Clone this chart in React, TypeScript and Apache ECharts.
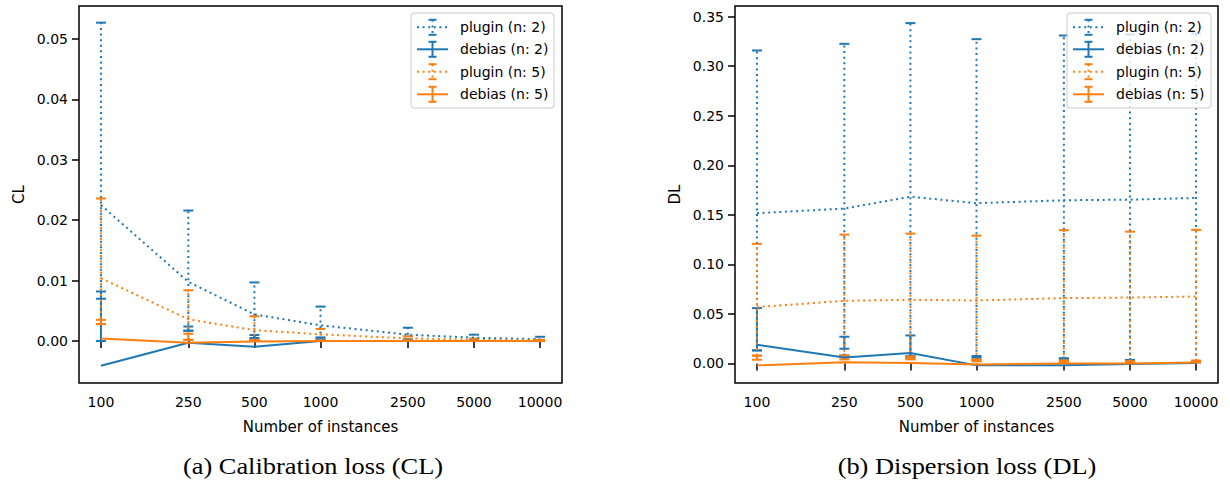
import React, { useEffect, useRef } from "react";
import * as echarts from "echarts";

// ---------- data ----------
const instances = [100, 250, 500, 1000, 2500, 5000, 10000];
const clTicks = [0, 0.01, 0.02, 0.03, 0.04, 0.05];
const dlTicks = [0, 0.05, 0.1, 0.15, 0.2, 0.25, 0.3, 0.35];

// Calibration loss (CL)
const clPluginN2 = [0.0225, 0.0098, 0.0044, 0.0026, 0.00105, 0.00055, 0.0003];
const clPluginN2Lo = [0.007, 0.0017, 0.0005, 0.0003, 0.0001, 0.0001, 0.0];
const clPluginN2Hi = [0.0527, 0.0216, 0.0097, 0.0057, 0.0022, 0.00105, 0.0007];
const clDebiasN2 = [-0.0041, -0.0003, -0.00095, 0.0, 0.0, 0.0, 0.0];
const clDebiasN2Lo = [0.0, 0.0017, 0.0002, 0.0001, 0.0001, 0.0, 0.0];
const clDebiasN2Hi = [0.0082, 0.0024, 0.001, 0.0006, 0.0003, 0.0002, 0.0001];
const clPluginN5 = [0.0104, 0.0036, 0.0018, 0.0011, 0.00045, 0.0002, 0.0001];
const clPluginN5Lo = [0.0028, 0.0002, 0.0, 0.0, 0.0, 0.0, 0.0];
const clPluginN5Hi = [0.0236, 0.0084, 0.0041, 0.002, 0.0008, 0.0004, 0.0002];
const clDebiasN5 = [0.0004, -0.0003, -0.0001, 0.0, 0.0, 0.0, 0.0];
const clDebiasN5Lo = [0.0028, 0.0002, 0.0, 0.0, 0.0, 0.0, 0.0];
const clDebiasN5Hi = [0.0035, 0.0012, 0.0002, 0.0001, 0.0001, 0.0, 0.0];

// Dispersion loss (DL)
const dlPluginN2 = [0.1516, 0.1563, 0.1683, 0.1617, 0.1647, 0.1653, 0.167];
const dlPluginN2Lo = [0.0131, 0.008, 0.0075, 0.006, 0.005, 0.0034, 0.002];
const dlPluginN2Hi = [0.3159, 0.3226, 0.3435, 0.3273, 0.331, 0.332, 0.333];
const dlDebiasN2 = [0.0189, 0.006, 0.0105, -0.002, -0.0018, -0.0005, 0.0005];
const dlDebiasN2Lo = [0.0131, 0.0148, 0.006, 0.004, 0.003, 0.002, 0.001];
const dlDebiasN2Hi = [0.0558, 0.0269, 0.0282, 0.0075, 0.005, 0.0034, 0.002];
const dlPluginN5 = [0.0568, 0.0632, 0.0642, 0.0635, 0.0659, 0.0665, 0.0675];
const dlPluginN5Lo = [0.0078, 0.006, 0.005, 0.003, 0.0027, 0.002, 0.0027];
const dlPluginN5Hi = [0.1207, 0.13, 0.131, 0.129, 0.1345, 0.133, 0.1348];
const dlDebiasN5 = [-0.002, 0.0012, 0.0005, -0.001, 0.0, 0.0, 0.0008];
const dlDebiasN5Lo = [0.0037, 0.004, 0.004, 0.002, 0.001, 0.001, 0.001];
const dlDebiasN5Hi = [0.0078, 0.008, 0.007, 0.004, 0.0027, 0.002, 0.0027];

const seriesNames = ["plugin (n: 2)", "debias (n: 2)", "plugin (n: 5)", "debias (n: 5)"];

// ---------- styles ----------
const BLUE = "#1f77b4";
const ORANGE = "#ff7f0e";
const DOT = [2, 3.6];
const LW = 2;
const FONT = "DejaVu Sans";

type S = { name: string; color: string; dotted: boolean; mean: number[]; lo: number[]; hi: number[] };

const clSeries: S[] = [
  { name: seriesNames[0], color: BLUE, dotted: true, mean: clPluginN2, lo: clPluginN2Lo, hi: clPluginN2Hi },
  { name: seriesNames[1], color: BLUE, dotted: false, mean: clDebiasN2, lo: clDebiasN2Lo, hi: clDebiasN2Hi },
  { name: seriesNames[2], color: ORANGE, dotted: true, mean: clPluginN5, lo: clPluginN5Lo, hi: clPluginN5Hi },
  { name: seriesNames[3], color: ORANGE, dotted: false, mean: clDebiasN5, lo: clDebiasN5Lo, hi: clDebiasN5Hi },
];
const dlSeries: S[] = [
  { name: seriesNames[0], color: BLUE, dotted: true, mean: dlPluginN2, lo: dlPluginN2Lo, hi: dlPluginN2Hi },
  { name: seriesNames[1], color: BLUE, dotted: false, mean: dlDebiasN2, lo: dlDebiasN2Lo, hi: dlDebiasN2Hi },
  { name: seriesNames[2], color: ORANGE, dotted: true, mean: dlPluginN5, lo: dlPluginN5Lo, hi: dlPluginN5Hi },
  { name: seriesNames[3], color: ORANGE, dotted: false, mean: dlDebiasN5, lo: dlDebiasN5Lo, hi: dlDebiasN5Hi },
];

function errorBarRenderer(color: string, dotted: boolean) {
  return (params: any, api: any) => {
    const x = api.value(0);
    const lo = api.value(1);
    const hi = api.value(2);
    const pLo = api.coord([x, lo]);
    const pHi = api.coord([x, hi]);
    const cw = 5;
    const barStyle: any = { stroke: color, lineWidth: LW, fill: null };
    if (dotted) barStyle.lineDash = DOT;
    const capStyle = { stroke: color, lineWidth: LW, fill: null };
    return {
      type: "group",
      children: [
        { type: "line", shape: { x1: pLo[0], y1: pLo[1], x2: pHi[0], y2: pHi[1] }, style: barStyle },
        { type: "line", shape: { x1: pLo[0] - cw, y1: pLo[1], x2: pLo[0] + cw, y2: pLo[1] }, style: capStyle },
        { type: "line", shape: { x1: pHi[0] - cw, y1: pHi[1], x2: pHi[0] + cw, y2: pHi[1] }, style: capStyle },
      ],
    };
  };
}

function buildSeries(list: S[], axisIndex: number) {
  const out: any[] = [];
  list.forEach((s) => {
    out.push({
      type: "line",
      name: s.name,
      xAxisIndex: axisIndex,
      yAxisIndex: axisIndex,
      data: instances.map((n, i) => [Math.log10(n), s.mean[i]]),
      symbol: "none",
      lineStyle: { color: s.color, width: LW, type: s.dotted ? DOT : "solid" },
      itemStyle: { color: s.color },
      z: 2,
    });
    out.push({
      type: "custom",
      name: s.name,
      xAxisIndex: axisIndex,
      yAxisIndex: axisIndex,
      data: instances.map((n, i) => [Math.log10(n), s.lo[i], s.hi[i]]),
      encode: { x: 0, y: [1, 2] },
      renderItem: errorBarRenderer(s.color, s.dotted),
      z: 2,
    });
  });
  return out;
}

function legendGraphics(boxX: number, boxW: number, list: S[]) {
  const els: any[] = [];
  const boxY = 13;
  const boxH = 95;
  els.push({
    type: "rect",
    shape: { x: boxX, y: boxY, width: boxW, height: boxH, r: 3 },
    style: { fill: "rgba(255,255,255,0.8)", stroke: "#cccccc", lineWidth: 1 },
    z: 100,
  });
  const rows = [27.3, 49.3, 71.7, 94.3];
  list.forEach((s, i) => {
    const y = rows[i];
    const x1 = boxX + 6;
    const x2 = boxX + 37;
    const cx = (x1 + x2) / 2;
    const base: any = { stroke: s.color, lineWidth: LW, fill: null };
    const dashed: any = s.dotted ? { ...base, lineDash: DOT } : base;
    els.push({ type: "line", shape: { x1, y1: y, x2, y2: y }, style: dashed, z: 101 });
    els.push({ type: "line", shape: { x1: cx, y1: y - 7.5, x2: cx, y2: y + 7.5 }, style: dashed, z: 101 });
    els.push({ type: "line", shape: { x1: cx - 4, y1: y - 7.5, x2: cx + 4, y2: y - 7.5 }, style: base, z: 101 });
    els.push({ type: "line", shape: { x1: cx - 4, y1: y + 7.5, x2: cx + 4, y2: y + 7.5 }, style: base, z: 101 });
    els.push({
      type: "text",
      x: boxX + 49,
      y,
      style: {
        text: s.name,
        fontFamily: FONT,
        fontSize: 14,
        fill: "#000",
        verticalAlign: "middle",
        align: "left",
      },
      z: 101,
    });
  });
  return els;
}

function xAxis(gridIndex: number) {
  const vals = instances.map((n) => Math.log10(n));
  return {
    type: "value",
    gridIndex,
    min: 1.9,
    max: 4.1,
    name: "Number of instances",
    nameLocation: "middle",
    nameGap: 36,
    nameTextStyle: { fontFamily: FONT, fontSize: 15, color: "#000" },
    axisLine: { show: false },
    splitLine: { show: false },
    axisTick: { show: true, inside: false, length: 7, customValues: vals, lineStyle: { color: "#000", width: 1.5 } },
    axisLabel: {
      show: true,
      customValues: vals,
      margin: 12,
      fontFamily: FONT,
      fontSize: 14,
      color: "#000",
      formatter: (v: number) => String(Math.round(Math.pow(10, v))),
    },
  };
}

function yAxis(gridIndex: number, name: string, min: number, max: number, ticks: number[]) {
  return {
    type: "value",
    gridIndex,
    min,
    max,
    name,
    nameLocation: "middle",
    nameGap: 53,
    nameRotate: 90,
    nameTextStyle: { fontFamily: FONT, fontSize: 15, color: "#000" },
    axisLine: { show: false },
    splitLine: { show: false },
    axisTick: { show: true, inside: false, length: 7, customValues: ticks, lineStyle: { color: "#000", width: 1.5 } },
    axisLabel: {
      show: true,
      customValues: ticks,
      margin: 11,
      fontFamily: FONT,
      fontSize: 14,
      color: "#000",
      formatter: (v: number) => v.toFixed(2),
    },
  };
}

export default function App() {
  const ref = useRef<HTMLDivElement>(null);
  useEffect(() => {
    document.body.style.margin = "0";
    if (!ref.current) return;
    const chart = echarts.init(ref.current, null, { renderer: "svg" });
    const captionStyle = {
      fontFamily: "Liberation Serif",
      fontSize: 24,
      fill: "#000",
      align: "center",
      verticalAlign: "middle",
    };
    const option: any = {
      animation: false,
      backgroundColor: "#ffffff",
      grid: [
        { left: 79, top: 6, width: 483, height: 377, show: true, borderColor: "#000", borderWidth: 1.5, backgroundColor: "transparent" },
        { left: 735, top: 6, width: 483, height: 377, show: true, borderColor: "#000", borderWidth: 1.5, backgroundColor: "transparent" },
      ],
      xAxis: [xAxis(0), xAxis(1)],
      yAxis: [
        yAxis(0, "CL", -0.00695, 0.05546, clTicks),
        yAxis(1, "DL", -0.0198, 0.3608, dlTicks),
      ],
      series: [...buildSeries(clSeries, 0), ...buildSeries(dlSeries, 1)],
      graphic: [
        ...legendGraphics(411, 143, clSeries),
        ...legendGraphics(1067, 144, dlSeries),
        {
          type: "text",
          x: 313,
          y: 466,
          scaleX: 1.1,
          style: { ...captionStyle, text: "(a) Calibration loss (CL)" },
        },
        {
          type: "text",
          x: 967,
          y: 466,
          scaleX: 1.1,
          style: { ...captionStyle, text: "(b) Dispersion loss (DL)" },
        },
      ],
    };
    chart.setOption(option);
    return () => chart.dispose();
  }, []);
  return <div ref={ref} style={{ width: 1230, height: 483 }} />;
}
